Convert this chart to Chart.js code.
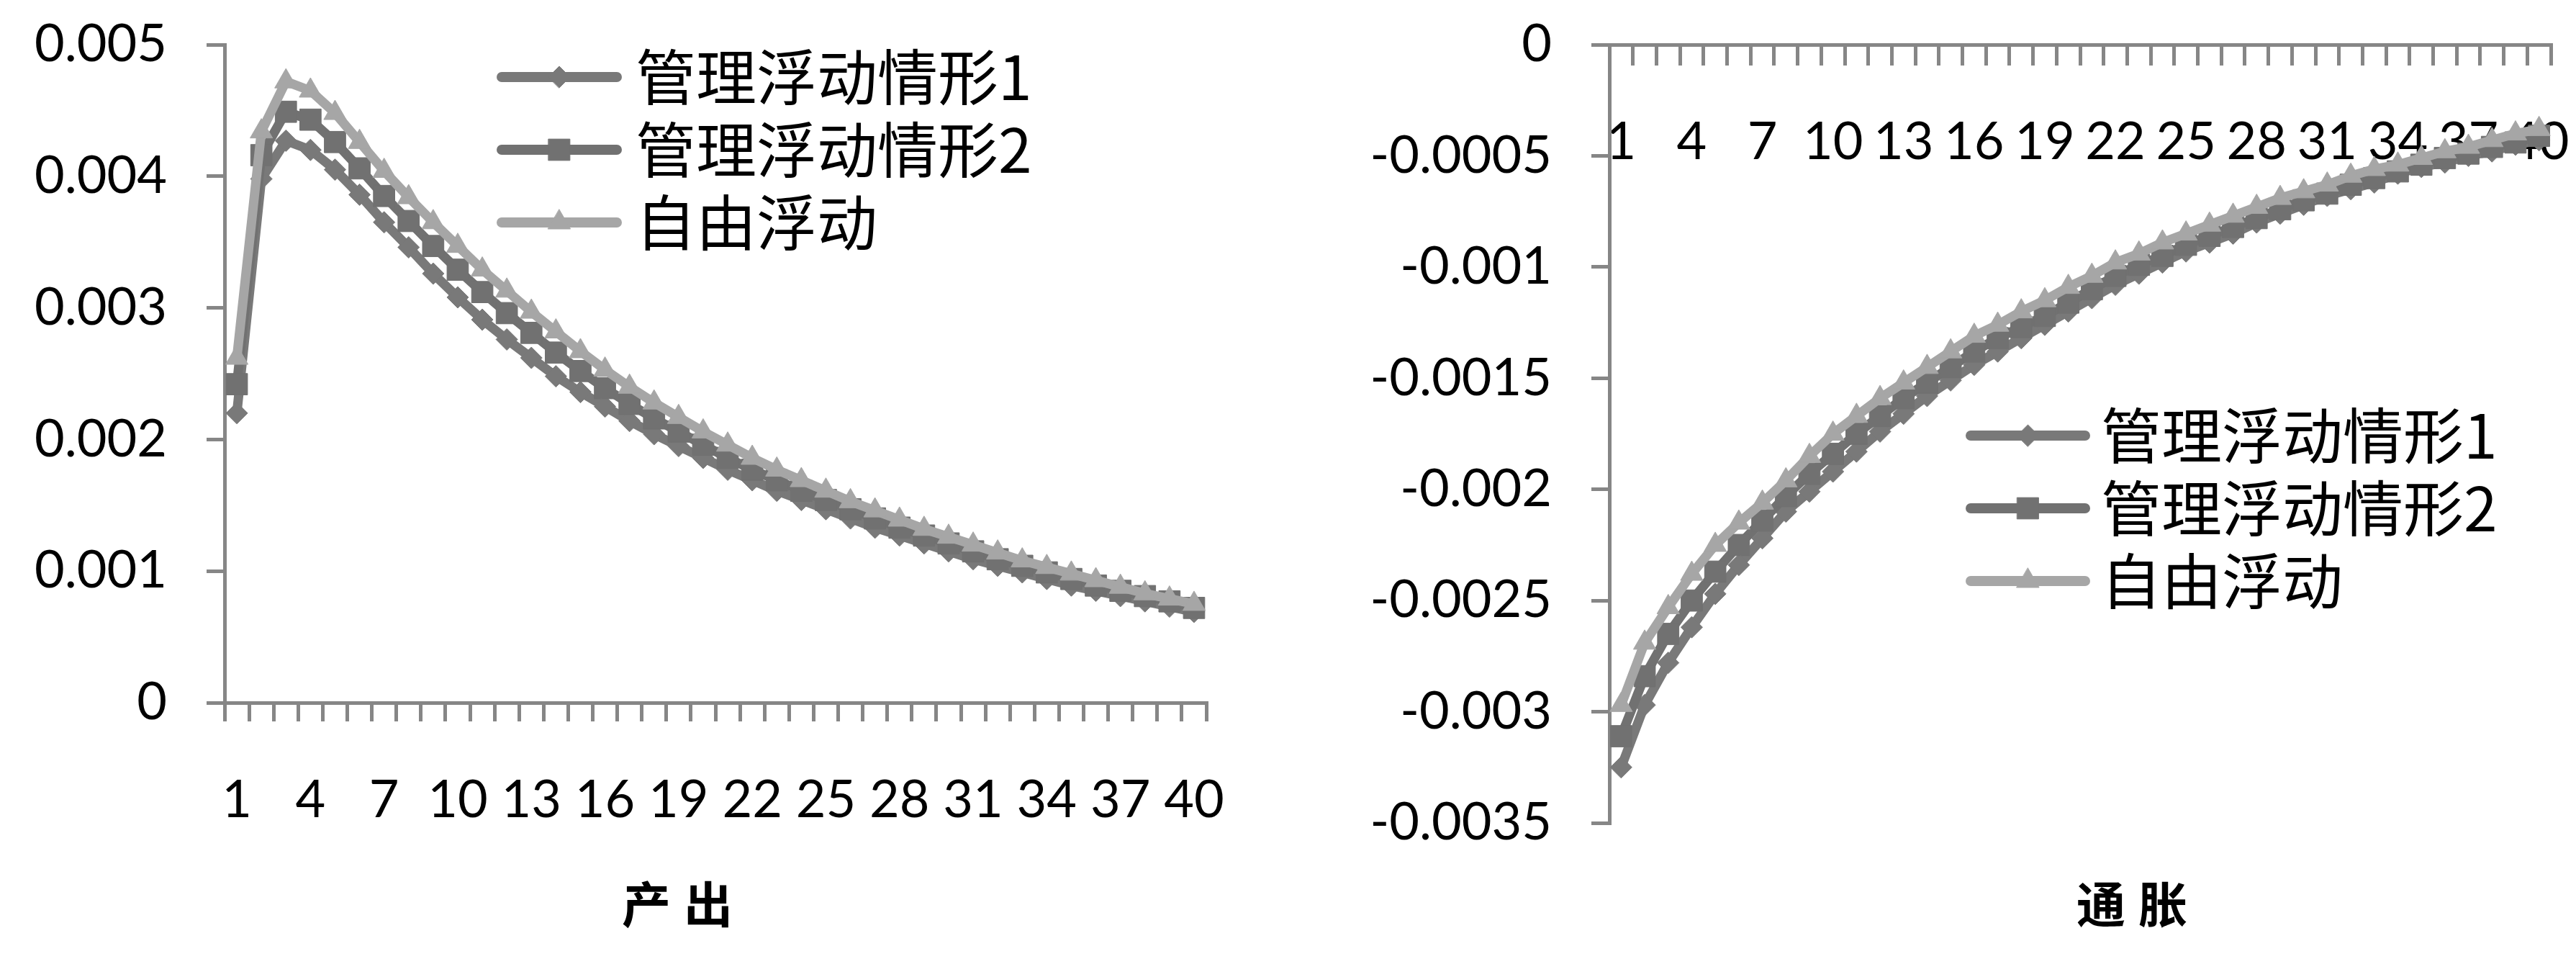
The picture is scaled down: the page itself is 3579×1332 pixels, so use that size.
<!DOCTYPE html>
<html><head><meta charset="utf-8">
<script src="https://cdn.jsdelivr.net/npm/chart.js@4.4.1/dist/chart.umd.min.js"></script>
<style>
html,body{margin:0;padding:0;background:#fff;}
body{width:3579px;height:1332px;position:relative;overflow:hidden;}
canvas{position:absolute;top:0;}
#c1{left:0;}
#c2{left:1800px;}
</style></head><body>
<canvas id="c1" width="1800" height="1332"></canvas>
<canvas id="c2" width="1779" height="1332"></canvas>
<script>
// ---------------- data ----------------
const categories = ['1','2','3','4','5','6','7','8','9','10','11','12','13','14','15','16','17','18','19','20',
  '21','22','23','24','25','26','27','28','29','30','31','32','33','34','35','36','37','38','39','40'];
const seriesNames = ['管理浮动情形1', '管理浮动情形2', '自由浮动'];
const chartTitles = ['产出', '通胀'];

const outputManaged1 = [0.00220,0.00398,0.00427,0.00420,0.00405,0.00386,0.00365,0.00346,0.00326,0.00308,
  0.00291,0.00276,0.00262,0.00248,0.00236,0.00225,0.00214,0.00204,0.00195,0.00186,
  0.00177,0.00169,0.00161,0.00154,0.00147,0.00140,0.00133,0.00127,0.00121,0.00115,
  0.00109,0.00104,0.00099,0.00094,0.00089,0.00085,0.00081,0.00077,0.00073,0.00069];
const outputManaged2 = [0.00242,0.00416,0.00449,0.00443,0.00426,0.00406,0.00385,0.00366,0.00347,0.00329,
  0.00312,0.00296,0.00281,0.00266,0.00252,0.00239,0.00227,0.00216,0.00206,0.00196,
  0.00186,0.00177,0.00169,0.00161,0.00154,0.00147,0.00140,0.00133,0.00127,0.00121,
  0.00115,0.00109,0.00104,0.00099,0.00094,0.00089,0.00085,0.00081,0.00077,0.00072];
const outputFree = [0.00262,0.00434,0.00472,0.00465,0.00448,0.00426,0.00404,0.00384,0.00365,0.00347,
  0.00329,0.00313,0.00297,0.00282,0.00267,0.00253,0.00240,0.00228,0.00217,0.00206,
  0.00196,0.00186,0.00177,0.00169,0.00161,0.00153,0.00146,0.00139,0.00132,0.00126,
  0.00120,0.00114,0.00108,0.00103,0.00098,0.00093,0.00088,0.00083,0.00079,0.00075];

const inflationManaged1 = [-0.00325,-0.00297,-0.00278,-0.00262,-0.00247,-0.00234,-0.00222,-0.00210,-0.00201,-0.00192,
  -0.00183,-0.00174,-0.00166,-0.00158,-0.00151,-0.00144,-0.00138,-0.00132,-0.00126,-0.00120,
  -0.00114,-0.00108,-0.00103,-0.00098,-0.00093,-0.00089,-0.00085,-0.00080,-0.00076,-0.00072,
  -0.00068,-0.00065,-0.00062,-0.00058,-0.00055,-0.00053,-0.00050,-0.00048,-0.00045,-0.00043];
const inflationManaged2 = [-0.00311,-0.00284,-0.00265,-0.00250,-0.00237,-0.00225,-0.00214,-0.00203,-0.00193,-0.00184,
  -0.00175,-0.00167,-0.00159,-0.00152,-0.00145,-0.00138,-0.00132,-0.00127,-0.00122,-0.00116,
  -0.00110,-0.00104,-0.00099,-0.00095,-0.00090,-0.00086,-0.00082,-0.00078,-0.00074,-0.00070,
  -0.00067,-0.00063,-0.00060,-0.00057,-0.00054,-0.00051,-0.00049,-0.00046,-0.00044,-0.00041];
const inflationFree = [-0.00297,-0.00269,-0.00253,-0.00238,-0.00225,-0.00215,-0.00206,-0.00196,-0.00185,-0.00175,
  -0.00167,-0.00159,-0.00152,-0.00145,-0.00138,-0.00131,-0.00126,-0.00120,-0.00115,-0.00109,
  -0.00104,-0.00098,-0.00094,-0.00089,-0.00085,-0.00081,-0.00077,-0.00073,-0.00069,-0.00066,
  -0.00063,-0.00059,-0.00056,-0.00054,-0.00051,-0.00048,-0.00046,-0.00043,-0.00040,-0.00038];

const outputTickValues = [0, 0.001, 0.002, 0.003, 0.004, 0.005];
const outputTickLabels = ['0', '0.001', '0.002', '0.003', '0.004', '0.005'];
const inflationTickValues = [-0.0035, -0.003, -0.0025, -0.002, -0.0015, -0.001, -0.0005, 0];
const inflationTickLabels = ['-0.0035', '-0.003', '-0.0025', '-0.002', '-0.0015', '-0.001', '-0.0005', '0'];

// ---------------- styles ----------------
const colors = ['#797979', '#717171', '#a6a6a6'];
const pointStyles = ['rectRot', 'rect', 'triangle'];
const pointRadii = [15, 21, 18];
const axisColor = '#868686';
const tickFont = {family: 'Lato, "Open Sans", sans-serif', size: 72, lineHeight: 1.2};

function makeDatasets(values) {
  return values.map((v, i) => ({
    label: seriesNames[i],
    data: v,
    borderColor: colors[i],
    backgroundColor: colors[i],
    borderWidth: 13,
    borderJoinStyle: 'round',
    borderCapStyle: 'round',
    tension: 0,
    pointStyle: pointStyles[i],
    pointRadius: pointRadii[i],
    pointBackgroundColor: colors[i],
    pointBorderColor: colors[i],
    pointBorderWidth: 1,
    order: 3 - i
  }));
}

const refLegend = {
  id: 'refLegend',
  afterDraw(chart, args, o) {
    const ctx = chart.ctx;
    ctx.save();
    chart.data.datasets.forEach((ds, i) => {
      const y = o.y + i * o.gap;
      ctx.strokeStyle = ds.borderColor;
      ctx.lineWidth = o.lineWidth;
      ctx.lineCap = 'round';
      ctx.beginPath(); ctx.moveTo(o.x1, y); ctx.lineTo(o.x2, y); ctx.stroke();
      ctx.lineWidth = 1;
      ctx.fillStyle = ds.pointBackgroundColor;
      ctx.strokeStyle = ds.pointBorderColor;
      Chart.helpers.drawPoint(ctx, {pointStyle: ds.pointStyle, radius: ds.pointRadius, rotation: 0, borderWidth: 1}, (o.x1 + o.x2) / 2, y);
      ctx.fillStyle = '#000';
      ctx.font = o.font;
      ctx.textAlign = 'left';
      ctx.textBaseline = 'middle';
      ctx.fillText(ds.label, o.textX, y);
    });
    ctx.font = o.titleFont;
    ctx.fillStyle = '#000';
    ctx.textAlign = 'center';
    ctx.textBaseline = 'middle';
    try { ctx.letterSpacing = '18px'; } catch (e) {}
    ctx.fillText(o.title, o.titleX + 9, o.titleY);
    ctx.restore();
  }
};

function clearPadding(s) { s.paddingLeft = 0; s.paddingRight = 0; s.paddingTop = 0; s.paddingBottom = 0; }

function xScale(extra, height) {
  return Object.assign({
    type: 'category',
    offset: true,
    afterFit: s => { if (height) { s.height = height; } clearPadding(s); },
    grid: {display: true, offset: true, drawOnChartArea: false, drawTicks: true, tickLength: 26,
           color: axisColor, lineWidth: 5, tickWidth: 5, tickColor: axisColor},
    border: {display: true, color: axisColor, width: 5},
    ticks: {
      autoSkip: false, maxRotation: 0, minRotation: 0, padding: 67, color: '#000', font: tickFont,
      callback: function (value, index) { return index % 3 === 0 ? this.getLabelForValue(value) : ''; }
    }
  }, extra);
}

function yScale(vals, labels, min, max, width) {
  return {
    type: 'linear',
    position: 'left',
    min: min, max: max,
    afterBuildTicks: s => { s.ticks = vals.map(v => ({value: v})); },
    afterFit: s => { s.width = width; clearPadding(s); },
    grid: {display: true, drawOnChartArea: false, drawTicks: true, tickLength: 25,
           color: axisColor, lineWidth: 5, tickWidth: 5, tickColor: axisColor},
    border: {display: true, color: axisColor, width: 5},
    ticks: {padding: 55, color: '#000', font: tickFont, callback: (v, i) => labels[i]}
  };
}

const legendFont = '84px "Noto Sans CJK SC", sans-serif';
const titleFont = 'bold 68px "Noto Sans CJK SC", sans-serif';

new Chart(document.getElementById('c1'), {
  type: 'line',
  data: {labels: categories, datasets: makeDatasets([outputManaged1, outputManaged2, outputFree])},
  options: {
    responsive: false, animation: false, devicePixelRatio: 1,
    layout: {padding: {top: 62, right: 124, bottom: 0, left: 0}},
    scales: {
      x: xScale({position: 'bottom'}, 1332 - 976),
      y: yScale(outputTickValues, outputTickLabels, 0, 0.005, 312)
    },
    plugins: {
      legend: {display: false}, tooltip: {enabled: false},
      refLegend: {x1: 697, x2: 857, y: 107, gap: 101, lineWidth: 14, textX: 883, font: legendFont,
                  title: chartTitles[0], titleFont: titleFont, titleX: 941, titleY: 1256}
    }
  },
  plugins: [refLegend]
});

new Chart(document.getElementById('c2'), {
  type: 'line',
  data: {labels: categories, datasets: makeDatasets([inflationManaged1, inflationManaged2, inflationFree])},
  options: {
    responsive: false, animation: false, devicePixelRatio: 1,
    layout: {padding: {top: 62, right: 35, bottom: 1332 - 1143, left: 0}},
    scales: {
      x: xScale({position: {y: 0}, z: 1}, 0),
      y: yScale(inflationTickValues, inflationTickLabels, -0.0035, 0, 436)
    },
    plugins: {
      legend: {display: false}, tooltip: {enabled: false},
      refLegend: {x1: 938, x2: 1097, y: 605, gap: 101, lineWidth: 14, textX: 1119, font: legendFont,
                  title: chartTitles[1], titleFont: titleFont, titleX: 1162, titleY: 1256}
    }
  },
  plugins: [refLegend]
});
</script>
</body></html>
